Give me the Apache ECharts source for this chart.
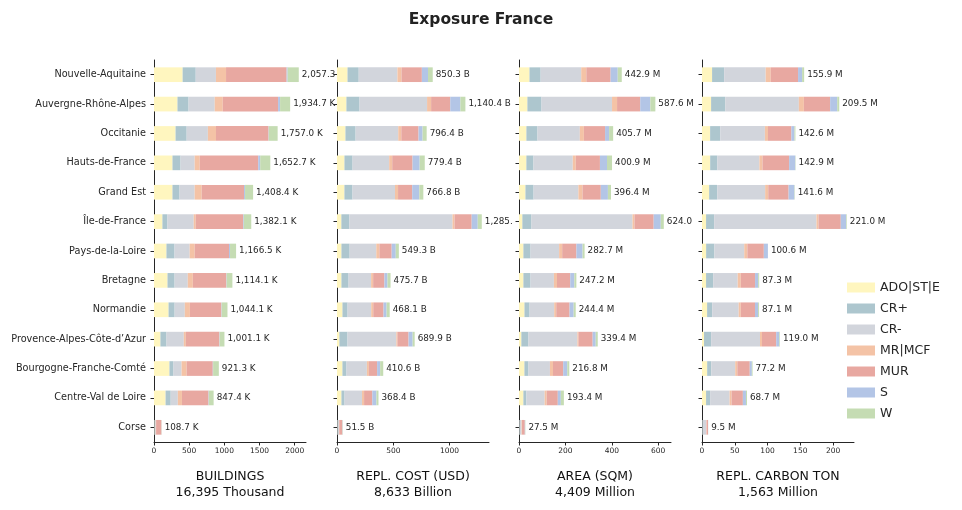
<!DOCTYPE html>
<html>
<head>
<meta charset="utf-8">
<script src="https://cdn.jsdelivr.net/npm/echarts@6/dist/echarts.min.js"></script>
<style>
  html, body { margin: 0; padding: 0; background: #fff; }
  #chart { width: 962px; height: 510px; }
</style>
</head>
<body>
<div id="chart"></div>
<script>
const regions = ['Nouvelle-Aquitaine', 'Auvergne-Rhône-Alpes', 'Occitanie', 'Hauts-de-France', 'Grand Est',
    'Île-de-France', 'Pays-de-la-Loire', 'Bretagne', 'Normandie', 'Provence-Alpes-Côte-d\u2019Azur',
    'Bourgogne-Franche-Comté', 'Centre-Val de Loire', 'Corse']
const segments = ['ADO|ST|E', 'CR+', 'CR-', 'MR|MCF', 'MUR', 'S', 'W']
const colors = ['#fff6bf', '#adc6ce', '#d2d5dc', '#f4c3a6', '#e8a8a1', '#b3c5e6', '#c5dcb3']

// one row per region, one column per segment
const buildings = [
    [406.7, 186.6, 287.0, 143.5, 861.0, 14.4, 158.1],
    [333.6, 157.3, 371.7, 114.4, 786.1, 28.6, 143.0],
    [306.4, 158.0, 301.6, 114.9, 746.8, 4.0, 125.3],
    [262.7, 114.6, 200.6, 71.7, 831.1, 28.7, 143.3],
    [262.6, 100.3, 214.8, 100.3, 601.5, 14.3, 114.6],
    [119.6, 71.7, 373.0, 28.7, 674.3, 9.6, 105.2],
    [176.9, 114.7, 215.1, 71.7, 487.7, 14.3, 86.1],
    [192.0, 100.8, 187.3, 72.0, 475.6, 4.8, 81.6],
    [206.9, 86.6, 144.3, 72.2, 447.5, 4.8, 81.8],
    [91.4, 86.6, 245.5, 28.9, 476.5, 4.8, 67.4],
    [219.6, 57.3, 114.6, 71.6, 372.2, 4.8, 81.2],
    [164.6, 72.6, 101.7, 58.1, 377.8, 4.8, 67.8],
    [5.0, 5.0, 15.0, 5.0, 75.0, 1.0, 2.7]
]
const replCost = [
    [93.5, 99.5, 343.7, 36.2, 180.9, 54.3, 42.2],
    [83.6, 116.4, 600.0, 35.8, 170.2, 89.6, 44.8],
    [75.1, 90.2, 378.7, 27.0, 153.3, 36.1, 36.0],
    [66.2, 72.2, 325.0, 27.1, 180.6, 63.2, 45.1],
    [65.9, 71.9, 377.4, 27.0, 125.8, 62.9, 35.9],
    [38.9, 71.8, 915.0, 17.9, 152.6, 53.8, 35.9],
    [39.5, 72.8, 236.7, 27.3, 109.3, 36.4, 27.3],
    [39.4, 63.6, 199.9, 18.2, 100.0, 27.3, 27.3],
    [48.6, 45.6, 209.7, 18.2, 91.2, 27.4, 27.4],
    [21.1, 72.3, 433.8, 9.0, 99.4, 36.2, 18.1],
    [48.3, 36.2, 181.1, 18.1, 72.5, 27.2, 27.2],
    [39.6, 27.4, 155.3, 18.3, 73.0, 36.5, 18.3],
    [2.0, 3.0, 12.0, 3.0, 27.0, 2.0, 2.5]
]
const area = [
    [45.2, 48.1, 174.8, 21.9, 104.8, 30.6, 17.5],
    [36.2, 60.8, 303.9, 21.7, 99.9, 43.4, 21.7],
    [31.9, 47.8, 182.5, 17.4, 91.3, 17.4, 17.4],
    [31.8, 30.4, 169.4, 13.0, 104.2, 30.4, 21.7],
    [27.8, 35.1, 193.0, 17.6, 79.0, 30.7, 13.2],
    [14.5, 39.2, 435.3, 8.7, 82.7, 30.5, 13.1],
    [19.0, 30.8, 123.0, 13.2, 61.5, 26.4, 8.8],
    [19.0, 30.7, 100.8, 13.2, 57.1, 17.6, 8.8],
    [23.6, 22.1, 106.0, 8.8, 57.4, 17.7, 8.8],
    [10.2, 30.7, 210.7, 4.4, 61.4, 13.2, 8.8],
    [23.4, 17.6, 92.3, 13.2, 43.9, 17.6, 8.8],
    [18.9, 13.1, 78.5, 8.7, 48.0, 13.1, 13.1],
    [1.0, 2.0, 8.0, 2.0, 12.0, 1.5, 1.0]
]
const carbon = [
    [15.4, 18.5, 63.3, 7.7, 41.7, 6.2, 3.1],
    [13.9, 21.6, 112.3, 7.7, 40.1, 10.8, 3.1],
    [12.4, 15.5, 68.1, 4.7, 35.7, 4.7, 1.5],
    [12.5, 11.0, 64.1, 4.7, 40.7, 9.4, 0.5],
    [10.9, 12.4, 73.1, 4.7, 31.1, 8.8, 0.6],
    [6.2, 12.4, 156.1, 3.1, 34.0, 8.2, 1.0],
    [6.3, 12.6, 45.6, 4.7, 25.2, 6.2, 0.0],
    [6.2, 10.9, 37.4, 4.7, 21.8, 4.7, 1.6],
    [7.8, 7.8, 40.4, 3.1, 21.8, 4.7, 1.5],
    [3.1, 10.9, 74.5, 3.1, 21.7, 4.7, 1.0],
    [7.9, 6.3, 36.5, 3.2, 19.0, 3.2, 1.1],
    [6.2, 6.2, 29.7, 3.1, 17.2, 4.7, 1.6],
    [0.3, 0.7, 5.5, 0.5, 2.2, 0.2, 0.1]
]

const totalsBuildings = [2057.3, 1934.7, 1757.0, 1652.7, 1408.4, 1382.1, 1166.5, 1114.1, 1044.1, 1001.1, 921.3, 847.4, 108.7]
const totalsCost = [850.3, 1140.4, 796.4, 779.4, 766.8, 1285.9, 549.3, 475.7, 468.1, 689.9, 410.6, 368.4, 51.5]
const totalsArea = [442.9, 587.6, 405.7, 400.9, 396.4, 624.0, 282.7, 247.2, 244.4, 339.4, 216.8, 193.4, 27.5]
const totalsCarbon = [155.9, 209.5, 142.6, 142.9, 141.6, 221.0, 100.6, 87.3, 87.1, 119.0, 77.2, 68.7, 9.5]

const panelNames = ['BUILDINGS\n16,395 Thousand', 'REPL. COST (USD)\n8,633 Billion',
    'AREA (SQM)\n4,409 Million', 'REPL. CARBON TON\n1,563 Million']
const units = ['K', 'B', 'M', 'M']
const axisMax = [2160, 1350, 655, 232]
const tickValues = [[0, 500, 1000, 1500, 2000], [0, 500, 1000], [0, 200, 400, 600], [0, 50, 100, 150, 200]]

const panels = [buildings, replCost, area, carbon]
const totals = [totalsBuildings, totalsCost, totalsArea, totalsCarbon]

const gridLeft = [154, 337, 519, 702]
const gridWidth = 152
const ink = '#262626'

function fmt(v, unit) {
    return v.toLocaleString('en-US', { minimumFractionDigits: 1, maximumFractionDigits: 1 }) + ' ' + unit
}

const chartDiv = document.getElementById('chart')
const myChart = echarts.init(chartDiv)

const grids = []
const xAxes = []
const yAxes = []
const series = []

panels.forEach((rows, p) => {
    grids.push({ left: gridLeft[p], width: gridWidth, top: 60, height: 382 })
    xAxes.push({
        type: 'value', gridIndex: p, min: 0, max: axisMax[p],
        name: panelNames[p], nameLocation: 'middle', nameGap: 27,
        nameTextStyle: { fontSize: 12.5, lineHeight: 16, color: '#111', fontFamily: 'DejaVu Sans' },
        axisLine: { show: true, lineStyle: { color: ink, width: 1 } },
        axisTick: { show: true, length: 3.5, lineStyle: { color: ink }, customValues: tickValues[p] },
        axisLabel: {
            fontSize: 7.5, color: ink, margin: 5, fontFamily: 'DejaVu Sans',
            customValues: tickValues[p], formatter: (v) => String(v)
        },
        splitLine: { show: false }
    })
    yAxes.push({
        type: 'category', gridIndex: p, data: regions, inverse: true,
        axisLine: { show: true, lineStyle: { color: ink, width: 1 } },
        axisTick: { show: true, length: 3.5, alignWithLabel: true, lineStyle: { color: ink } },
        axisLabel: { show: p === 0, fontSize: 9.7, color: ink, margin: 8, fontFamily: 'DejaVu Sans' }
    })

    const pxPer = gridWidth / axisMax[p]
    segments.forEach((seg, s) => {
        const last = s === segments.length - 1
        const data = rows.map((r, i) => {
            if (!last) return r[s]
            const item = { value: r[s] }
            if (p < panels.length - 1) {
                // the next panel hides what runs past its axis
                const room = gridLeft[p + 1] - (gridLeft[p] + totals[p][i] * pxPer) - 3
                item.label = { width: Math.max(room, 0), overflow: 'truncate', ellipsis: '' }
            }
            return item
        })
        series.push({
            name: seg, type: 'bar', stack: 'p' + p,
            xAxisIndex: p, yAxisIndex: p,
            barWidth: '50%',
            itemStyle: { color: colors[s] },
            emphasis: { disabled: true },
            label: last ? {
                show: true, position: 'right', distance: 3,
                fontSize: 8.8, color: ink, fontFamily: 'DejaVu Sans',
                formatter: (prm) => fmt(totals[p][prm.dataIndex], units[p])
            } : { show: false },
            data: data
        })
    })
})

myChart.setOption({
    animation: false,
    title: {
        text: 'Exposure France', left: 'center', top: 7,
        textStyle: { fontSize: 15.5, fontWeight: 'bold', color: '#222', fontFamily: 'DejaVu Sans' }
    },
    legend: {
        data: segments, orient: 'vertical', left: 842, top: 276,
        icon: 'rect', itemWidth: 28, itemHeight: 10, itemGap: 8,
        textStyle: { fontSize: 12.5, color: ink, fontFamily: 'DejaVu Sans' }
    },
    grid: grids,
    xAxis: xAxes,
    yAxis: yAxes,
    series: series
})
</script>
</body>
</html>
